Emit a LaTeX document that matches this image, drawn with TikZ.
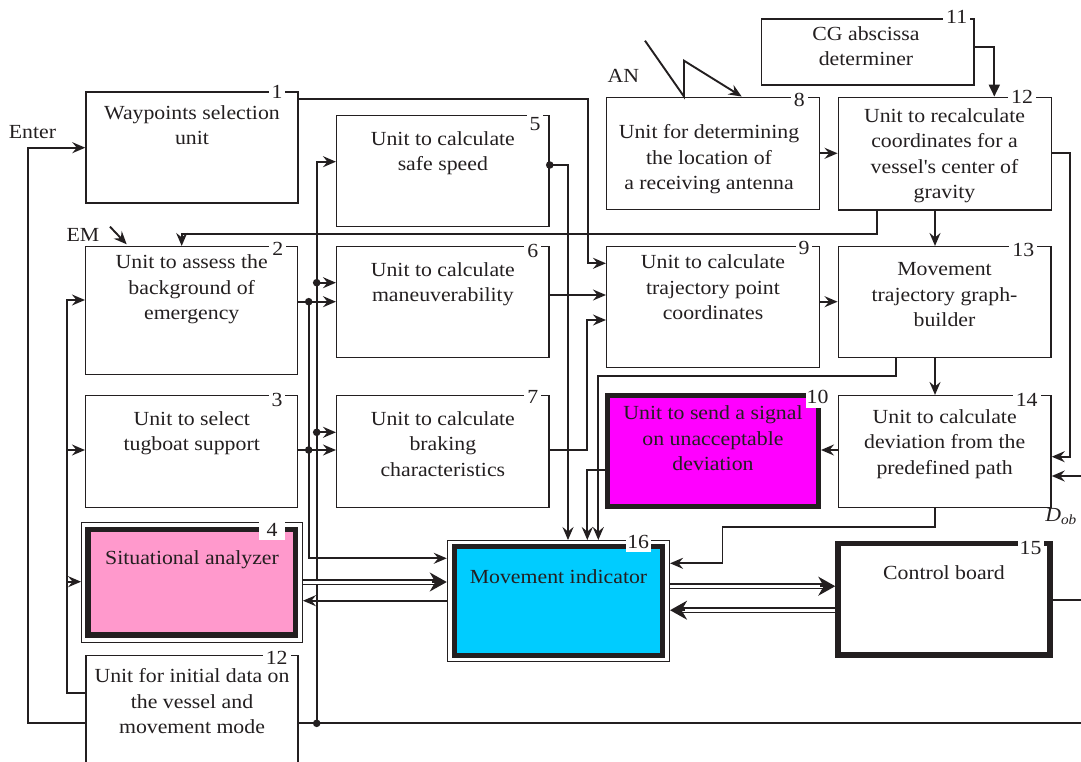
\documentclass[tikz,border=0pt]{standalone}
\usepackage{fontspec}
\setmainfont{Liberation Serif}[FakeStretch=1.09]
\usetikzlibrary{arrows.meta,calc}
\definecolor{ink}{RGB}{35,31,32}
\definecolor{pinkfill}{RGB}{255,153,204}
\definecolor{magfill}{RGB}{255,0,255}
\definecolor{cyanfill}{RGB}{0,204,255}
\begin{document}
\begin{tikzpicture}[x=1pt,y=-1pt,
  every node/.style={font=\fontsize{20}{25.5}\selectfont, text=ink},
  unit/.style={draw=ink, line width=1.5pt, rectangle, inner sep=0pt},
  thickunit/.style={unit, line width=5pt},
  frame/.style={unit, line width=1.3pt},
  txt/.style={align=center, inner sep=0pt, anchor=north},
  num/.style={fill=white, inner xsep=3pt, inner ysep=2pt},
  numbox/.style={fill=white, inner sep=0pt, minimum width=#1, minimum height=20pt},
  conn/.style={draw=ink, line width=1.9pt},
  arr/.style={conn, -{Stealth[length=13pt,width=11pt,inset=4.5pt]}},
  triarr/.style={conn, -{Triangle[length=12pt,width=11pt]}},
  dbl/.style={draw=ink, double=white, double distance=3pt, line width=1.3pt},
  bigarr/.style={draw=ink, line width=1.9pt, -{Stealth[length=17pt,width=19pt,inset=5.5pt]}},
  jdot/.style={fill=ink}
]
\useasboundingbox (0,0) rectangle (1081,762);

% ---------- units ----------
\node[unit, minimum width=212pt, minimum height=111pt] (b1) at (192,147.5) {};
\node[unit, minimum width=212pt, minimum height=127.6pt] (b2) at (191.7,310.5) {};
\node[unit, minimum width=212pt, minimum height=111.6pt] (b3) at (191.7,451.5) {};
\node[unit, minimum width=212.3pt, minimum height=111pt] (b5) at (442.85,171.2) {};
\node[unit, minimum width=212.3pt, minimum height=111pt] (b6) at (442.85,302.2) {};
\node[unit, minimum width=212.3pt, minimum height=111.6pt] (b7) at (442.85,451.5) {};
\node[unit, minimum width=212.6pt, minimum height=112pt] (b8) at (713,153.3) {};
\node[unit, minimum width=212.6pt, minimum height=121pt] (b9) at (713,307.2) {};
\node[thickunit, fill=magfill, minimum width=211pt, minimum height=111pt] (b10) at (713,451.3) {};
\node[unit, minimum width=212.3pt, minimum height=66pt] (b11) at (867.85,52) {};
\node[unit, minimum width=213.4pt, minimum height=112.7pt] (b12) at (945,153.65) {};
\node[unit, minimum width=212.7pt, minimum height=111pt] (b13) at (944.65,302.2) {};
\node[unit, minimum width=212.7pt, minimum height=111.6pt] (b14) at (944.65,451.5) {};
\node[thickunit, line width=5.5pt, fill=white, minimum width=212pt, minimum height=111.5pt] (b15) at (944,599.25) {};
\node[frame, minimum width=220.6pt, minimum height=120pt] (b4) at (192,582.3) {};
\node[thickunit, line width=5.5pt, fill=pinkfill, minimum width=207.7pt, minimum height=105.3pt] (b4i) at (191.85,582.35) {};
\node[frame, minimum width=222pt, minimum height=120.6pt] (b16) at (558.4,601) {};
\node[thickunit, fill=cyanfill, minimum width=208pt, minimum height=108.3pt] (b16i) at (558.5,600.85) {};
\node[rectangle, inner sep=0pt, outer sep=0pt, minimum width=212pt, minimum height=106.7pt] (b17) at (192,708.65) {};
\draw[ink, line width=1.5pt] (b17.south west) |- (b17.north east) -- (b17.south east);

% ---------- texts ----------
\node[txt] (t1) at (192,105) {Waypoints selection\\unit};
\node[txt] (t2) at (191.7,254.7) {Unit to assess the\\background of\\emergency};
\node[txt] (t3) at (191.7,411.3) {Unit to select\\tugboat support};
\node[txt] (t4) at (192,550.3) {Situational analyzer};
\node[txt] (t5) at (442.85,131.3) {Unit to calculate\\safe speed};
\node[txt] (t6) at (442.85,262.3) {Unit to calculate\\maneuverability};
\node[txt] (t7) at (442.85,411.3) {Unit to calculate\\braking\\characteristics};
\node[txt] (t8) at (709,124.7) {Unit for determining\\the location of\\a receiving antenna};
\node[txt] (t9) at (713,254.7) {Unit to calculate\\trajectory point\\coordinates};
\node[txt] (t10) at (713,405.7) {Unit to send a signal\\on unacceptable\\deviation};
\node[txt] (t11) at (866,26.3) {CG abscissa\\determiner};
\node[txt] (t12) at (944.5,108) {Unit to recalculate\\coordinates for a\\vessel\textquotesingle s center of\\gravity};
\node[txt] (t13) at (944.5,262.3) {Movement\\trajectory graph-\\builder};
\node[txt] (t14) at (944.65,409) {Unit to calculate\\deviation from the\\predefined path};
\node[txt] (t15) at (944,565.7) {Control board};
\node[txt] (t16) at (558.5,569) {Movement indicator};
\node[txt] (t17) at (192,668.7) {Unit for initial data on\\the vessel and\\movement mode};

% ---------- numbers ----------
\node[num] (n1) at (277,92) {1};
\node[num] (n2) at (277.7,249) {2};
\node[num] (n3) at (277,400) {3};
\node[num] (n5) at (535,124) {5};
\node[num] (n6) at (532.7,250.7) {6};
\node[num] (n7) at (532.7,397) {7};
\node[num] (n8) at (799.3,100) {8};
\node[num] (n9) at (804,248.3) {9};
\node[num] (n11) at (956.7,17) {11};
\node[num] (n12) at (1022,97) {12};
\node[num] (n13) at (1023.3,250) {13};
\node[num] (n14) at (1026.7,400) {14};
\node[num] (n17) at (276.7,658.3) {12};
\node[numbox=23pt, minimum height=22pt] (n10) at (817.5,397) {10};
\node[numbox=26pt] (n4) at (272,530) {4};
\node[numbox=25pt] (n16) at (638.2,542) {16};
\node[numbox=26pt] (n15) at (1030.5,548) {15};

% ---------- outside labels ----------
\node (enter) at (32.5,131.7) {Enter};
\node (em) at (83,235) {EM};
\node (an) at (623.3,75.8) {AN};
\node[anchor=base] (dob) at (1061,521.7) {\itshape D\textsubscript{ob}};
\coordinate (emA) at (110,226.7);
\coordinate (emB) at (126.7,244.3);
\coordinate (anA) at (645,40.7);
\coordinate (dobin) at (1081,476);
\coordinate (rightB) at (1081,723.3);
\coordinate (rightC) at (1081,600);

% ---------- connectors ----------
% Enter and bottom bus
\draw[arr] (b17.west |- 0,723.3) -| (28.3,147.7) -- (b1.west |- 0,147.7);
\draw[conn] (b17.east |- 0,723.3) -- (rightB);
% bus from initial data
\draw[arr] (b17.west |- 0,693.3) -| (66.7,300) -- (b2.west |- 0,300);
\draw[arr] (66.7,450) -- (b3.west |- 0,450);
\draw[arr] (66.7,581.7) -- (b4.west |- 0,581.7);
% bus x=308.7
\draw[arr] (b2.east |- 0,301.7) -- (b6.west |- 0,301.7);
\draw[arr] (b3.east |- 0,450) -- (b7.west |- 0,450);
\draw[arr] (308.7,301.7) -- (308.7,558.3) -- (b16.west |- 0,558.3);
\fill[jdot] (308.7,301.7) circle (3.8pt);
\fill[jdot] (308.7,450) circle (3.8pt);
% bus x=316.7
\draw[arr] (316.7,723.3) -- (316.7,161.7) -- (b5.west |- 0,161.7);
\draw[arr] (316.7,282.7) -- (b6.west |- 0,282.7);
\draw[arr] (316.7,432.3) -- (b7.west |- 0,432.3);
\fill[jdot] (316.7,282.7) circle (3.8pt);
\fill[jdot] (316.7,432.3) circle (3.8pt);
\fill[jdot] (316.7,723.3) circle (3.8pt);
% into movement indicator from above
\draw[arr] (b5.east |- 0,165) -| (b16.north -| 568,0);
\fill[jdot] (b5.east |- 0,165) circle (3.8pt);
\draw[arr] (b10.west |- 0,470) -| (b16.north -| 587.3,0);
\draw[arr] (b13.south -| 896,0) |- (598.3,376) -- (b16.north -| 598.3,0);
% into unit 9
\draw[arr] (b1.east |- 0,99) -| (587.7,263.3) -- (b9.west |- 0,263.3);
\draw[arr] (b6.east |- 0,295) -- (b9.west |- 0,295);
\draw[arr] (b7.east |- 0,450) -| (587,320) -- (b9.west |- 0,320);
% right column
\draw[arr] (b8.east |- 0,153.3) -- (b12.west |- 0,153.3);
\draw[arr] (b9.east |- 0,301.7) -- (b13.west |- 0,301.7);
\draw[triarr] (b11.east |- 0,46.7) -| (b12.north -| 994.3,0);
\draw[arr] (b12.south -| 935,0) -- (b13.north -| 935,0);
\draw[arr] (b12.south -| 877.3,0) |- (181.7,234) -- (b2.north -| 181.7,0);
\draw[arr] (b12.east |- 0,153) -| (1070,456.7) -- (b14.east |- 0,456.7);
\draw[arr] (dobin) -- (b14.east |- dobin);
\draw[arr] (b13.south -| 935,0) -- (b14.north -| 935,0);
\draw[arr] (b14.west |- 0,450) -- (b10.east |- 0,450);
\draw[arr] (b14.south -| 935,0) |- (722.5,526.7) |- (b16.east |- 0,563.3);
\draw[conn] (b15.east |- rightC) -- (rightC);
% EM and AN inputs
\draw[arr] (emA) -- (emB);
\draw[arr] (anA) -- (b8.north -| 684,0) -- (684,60.7) -- (b8.north -| 741.7,0);
% situational analyzer <-> movement indicator
\draw[dbl] (b4.east |- 0,582) -- ($(b16.west |- 0,582)+(-8,0)$);
\draw[bigarr] ($(b16.west |- 0,582)+(-15,0)$) -- (b16.west |- 0,582);
\draw[arr] (b16.west |- 0,600.7) -- (b4.east |- 0,600.7);
% movement indicator <-> control board
\draw[dbl] (b16.east |- 0,586.2) -- ($(b15.west |- 0,586.2)+(-8,0)$);
\draw[bigarr] ($(b15.west |- 0,586.2)+(-15,0)$) -- (b15.west |- 0,586.2);
\draw[dbl] (b15.west |- 0,610.2) -- ($(b16.east |- 0,610.2)+(8,0)$);
\draw[bigarr] ($(b16.east |- 0,610.2)+(15,0)$) -- (b16.east |- 0,610.2);
\end{tikzpicture}
\end{document}
